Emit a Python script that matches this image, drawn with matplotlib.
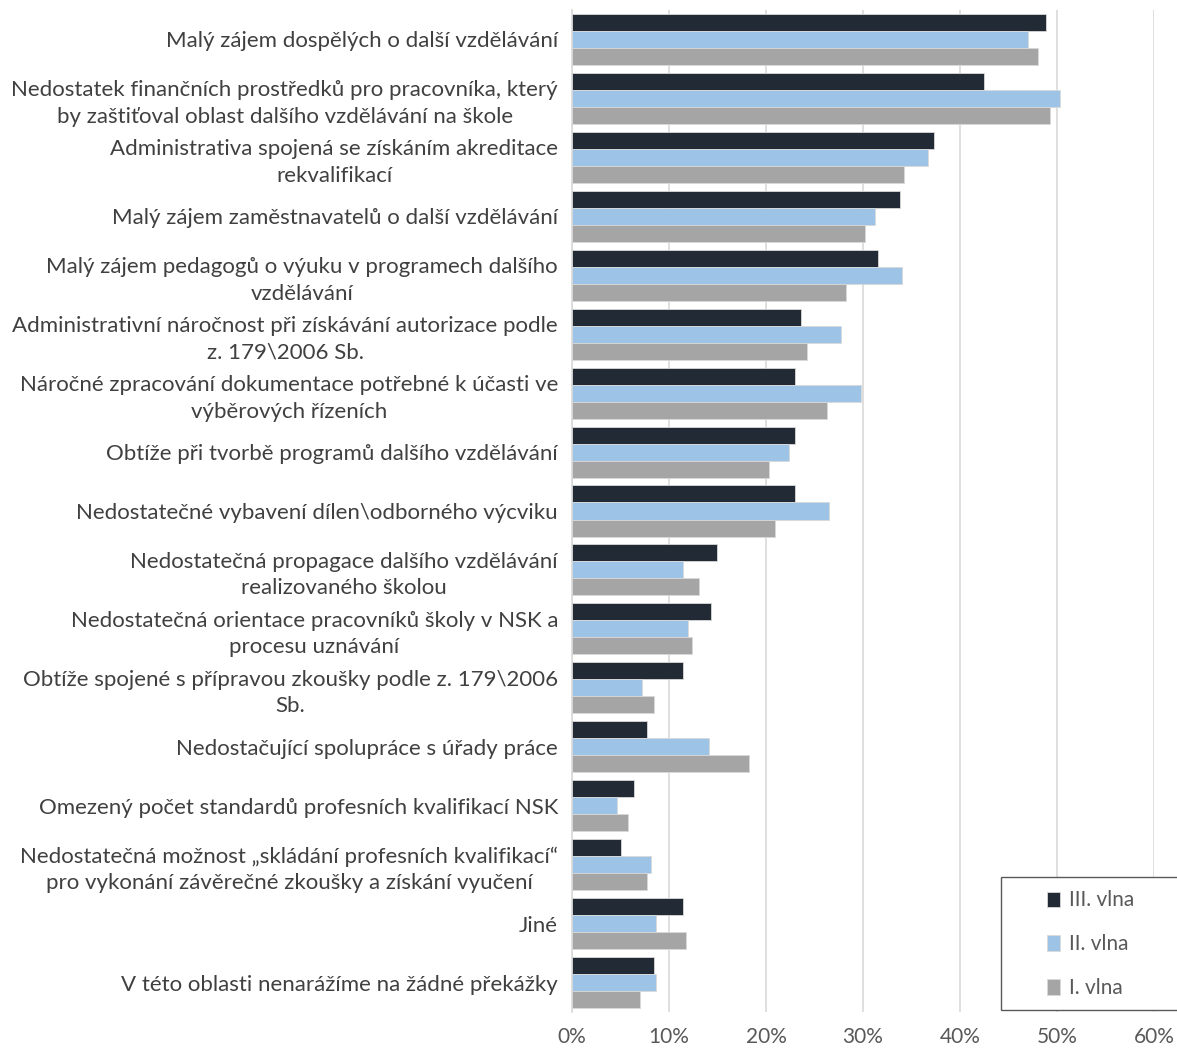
import numpy as np
import matplotlib.pyplot as plt
from matplotlib.patches import Rectangle
from matplotlib.ticker import PercentFormatter

plt.rcParams['font.family'] = ['Lato', 'DejaVu Sans']

categories = [
    "Malý zájem dospělých o další vzdělávání",
    "Nedostatek finančních prostředků pro pracovníka, který\nby zaštiťoval oblast dalšího vzdělávání na škole",
    "Administrativa spojená se získáním akreditace\nrekvalifikací",
    "Malý zájem zaměstnavatelů o další vzdělávání",
    "Malý zájem pedagogů o výuku v programech dalšího\nvzdělávání",
    "Administrativní náročnost při získávání autorizace podle\nz. 179\\2006 Sb.",
    "Náročné zpracování dokumentace potřebné k účasti ve\nvýběrových řízeních",
    "Obtíže při tvorbě programů dalšího vzdělávání",
    "Nedostatečné vybavení dílen\\odborného výcviku",
    "Nedostatečná propagace dalšího vzdělávání\nrealizovaného školou",
    "Nedostatečná orientace pracovníků školy v NSK a\nprocesu uznávání",
    "Obtíže spojené s přípravou zkoušky podle z. 179\\2006\nSb.",
    "Nedostačující spolupráce s úřady práce",
    "Omezený počet standardů profesních kvalifikací NSK",
    "Nedostatečná možnost „skládání profesních kvalifikací“\npro vykonání závěrečné zkoušky a získání vyučení",
    "Jiné",
    "V této oblasti nenarážíme na žádné překážky",
]

# values in %
wave3 = [48.9, 42.5, 37.3, 33.8, 31.5, 23.6, 23.0, 23.0, 23.0, 14.9, 14.3, 11.4, 7.7, 6.4, 5.0, 11.4, 8.5]
wave2 = [47.0, 50.3, 36.7, 31.2, 34.0, 27.7, 29.8, 22.4, 26.5, 11.4, 12.0, 7.2, 14.1, 4.6, 8.1, 8.7, 8.7]
wave1 = [48.0, 49.3, 34.2, 30.2, 28.2, 24.2, 26.3, 20.3, 20.9, 13.1, 12.4, 8.5, 18.2, 5.8, 7.7, 11.8, 7.0]

series = [("III. vlna", wave3, "#222a35"),
          ("II. vlna", wave2, "#9dc3e6"),
          ("I. vlna", wave1, "#a5a5a5")]

fig = plt.figure(figsize=(11.77, 10.49), dpi=100)
ax = fig.add_axes([572 / 1177, 1 - 1012 / 1049, (1154 - 572) / 1177, (1012 - 10) / 1049])

y = np.arange(len(categories))
h = 0.289
for i, (name, vals, col) in enumerate(series):
    ax.barh(y + (i - 1) * h, vals, height=h, color=col, edgecolor="#d9d9d9",
            linewidth=0.6, label=name, zorder=3)

ax.set_ylim(len(categories) - 0.5, -0.5)
ax.set_xlim(0, 60)
ax.set_xticks(np.arange(0, 61, 10))
ax.xaxis.set_major_formatter(PercentFormatter(decimals=0))
ax.set_yticks(y)
ax.set_yticklabels(categories, fontsize=16, color="#404040", linespacing=1.4)
for lbl in ax.get_yticklabels():
    lbl.set_multialignment("center")

ax.grid(axis="x", color="#d9d9d9", linewidth=1.2, zorder=0)
ax.tick_params(axis="x", length=0, pad=11, labelsize=15, labelcolor="#595959")
ax.tick_params(axis="y", length=0, pad=10)
for s in ["top", "right", "bottom"]:
    ax.spines[s].set_visible(False)
ax.spines["left"].set_color("#d9d9d9")
ax.spines["left"].set_linewidth(1.2)

# legend box (frame drawn separately so it runs off the right edge like the source)
fig.patches.append(Rectangle((1001 / 1177, 1 - 1010 / 1049), 0.3, 133 / 1049,
                             transform=fig.transFigure, facecolor="white",
                             edgecolor="#595959", linewidth=1.0, zorder=5))
leg = fig.legend(loc="upper left", bbox_to_anchor=(1037 / 1177, 1 - 880 / 1049),
                 frameon=False, fontsize=15, handlelength=0.62, handleheight=0.75,
                 handletextpad=0.4, labelspacing=1.15, borderpad=0)
leg.set_zorder(6)
for t in leg.get_texts():
    t.set_color("#595959")

fig.savefig("out.png", dpi=100)
